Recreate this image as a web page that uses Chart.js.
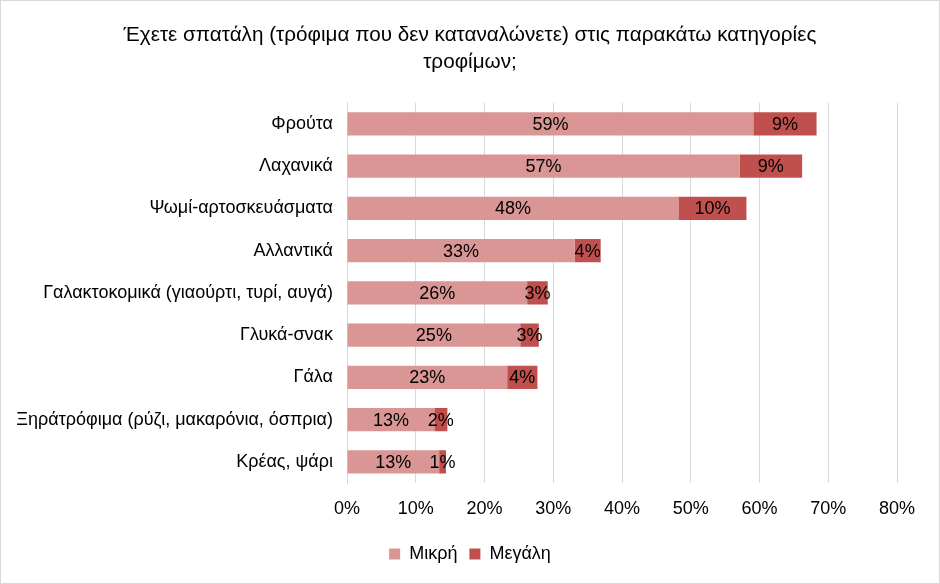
<!DOCTYPE html>
<html>
<head>
<meta charset="utf-8">
<script src="https://cdn.jsdelivr.net/npm/chart.js@4"></script>
<style>
  html, body { margin: 0; padding: 0; background: #fff; }
  #wrap { width: 938px; height: 582px; border: 1px solid #d9d9d9; }
</style>
</head>
<body>
<div id="wrap"><canvas id="chart" width="938" height="582"></canvas></div>
<script>
// Κατηγορίες τροφίμων
const categories = [
    'Φρούτα',
    'Λαχανικά',
    'Ψωμί-αρτοσκευάσματα',
    'Αλλαντικά',
    'Γαλακτοκομικά (γιαούρτι, τυρί, αυγά)',
    'Γλυκά-σνακ',
    'Γάλα',
    'Ξηράτρόφιμα (ρύζι, μακαρόνια, όσπρια)',
    'Κρέας, ψάρι'
];
// Ποσοστά σπατάλης (%)
const smallWaste = [59.1, 57.1, 48.2, 33.1, 26.2, 25.2, 23.3, 12.7, 13.4];
const largeWaste = [9.2, 9.1, 9.9, 3.8, 3.0, 2.7, 4.4, 1.9, 1.0];
const xTicks = [0, 10, 20, 30, 40, 50, 60, 70, 80];

const FONT = '"Liberation Sans", Arial, sans-serif';

// Ετικέτες τιμών μέσα στις μπάρες
const barLabels = {
    id: 'barLabels',
    afterDatasetsDraw(chart) {
        const ctx = chart.ctx;
        ctx.save();
        ctx.font = '18px ' + FONT;
        ctx.fillStyle = '#000';
        ctx.textAlign = 'center';
        ctx.textBaseline = 'middle';
        chart.data.datasets.forEach((ds, i) => {
            chart.getDatasetMeta(i).data.forEach((bar, j) => {
                const cx = (bar.x + bar.base) / 2;
                ctx.fillText(Math.round(ds.data[j]) + '%', cx, bar.y + 1);
            });
        });
        ctx.restore();
    }
};

// Τίτλος και υπόμνημα κεντραρισμένα σε όλο το πλάτος (όχι μόνο στην περιοχή του γραφήματος)
const centerBlocks = {
    id: 'centerBlocks',
    afterLayout(chart) {
        [chart.titleBlock, chart.legend].forEach(b => {
            if (!b) return;
            b.left = 0;
            b.right = chart.width;
            b.width = chart.width;
        });
    }
};

new Chart(document.getElementById('chart').getContext('2d'), {
    type: 'bar',
    data: {
        labels: categories,
        datasets: [{
            label: 'Μικρή',
            data: smallWaste,
            backgroundColor: '#d99694'
        }, {
            label: 'Μεγάλη',
            data: largeWaste,
            backgroundColor: '#c0504d'
        }]
    },
    options: {
        indexAxis: 'y',
        responsive: false,
        animation: false,
        layout: { padding: { left: 0, right: 42, top: 0, bottom: 10 } },
        datasets: { bar: { categoryPercentage: 1, barPercentage: 0.55 } },
        scales: {
            x: {
                stacked: true,
                min: 0,
                max: 80,
                afterBuildTicks: (s) => { s.ticks = xTicks.map(v => ({ value: v })); },
                afterFit: (s) => { s.height = 50; },
                grid: { color: '#d9d9d9', drawTicks: false },
                border: { display: false },
                ticks: {
                    padding: 15,
                    color: '#000',
                    font: { family: FONT, size: 18 },
                    callback: (v) => v + '%'
                }
            },
            y: {
                stacked: true,
                afterFit: (s) => { s.width = 346; },
                grid: { display: false, drawTicks: false },
                border: { color: '#d9d9d9' },
                ticks: {
                    padding: 14,
                    color: '#000',
                    font: { family: FONT, size: 18 }
                }
            }
        },
        plugins: {
            title: {
                display: true,
                text: ['Έχετε σπατάλη (τρόφιμα που δεν καταναλώνετε) στις παρακάτω κατηγορίες', 'τροφίμων;'],
                color: '#000',
                font: { family: FONT, size: 20.7, weight: 'normal', lineHeight: 1.3 },
                padding: { top: 21, bottom: 27 }
            },
            legend: {
                position: 'bottom',
                labels: {
                    color: '#000',
                    boxWidth: 11,
                    boxHeight: 11,
                    padding: 12,
                    font: { family: FONT, size: 18 }
                }
            },
            tooltip: { enabled: false }
        }
    },
    plugins: [barLabels, centerBlocks]
});
</script>
</body>
</html>
